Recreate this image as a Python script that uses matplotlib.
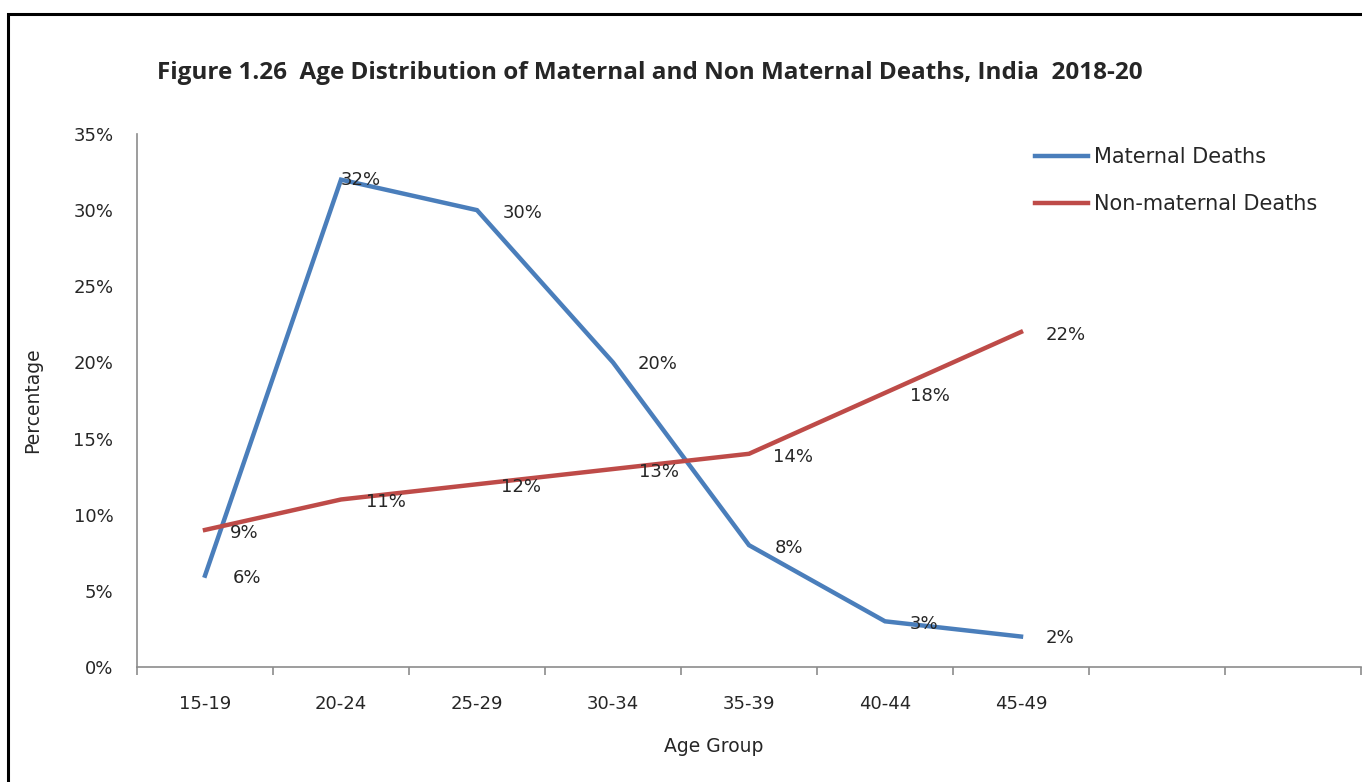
import numpy as np
import matplotlib.pyplot as plt
from matplotlib.patches import Rectangle

# Data
age_groups = ['15-19', '20-24', '25-29', '30-34', '35-39', '40-44', '45-49']
maternal = [6, 32, 30, 20, 8, 3, 2]
non_maternal = [9, 11, 12, 13, 14, 18, 22]
y_ticks = [0, 5, 10, 15, 20, 25, 30, 35]

# label offsets in points (dx, dy) - Excel style placement
mat_offsets = [(30, -2), (14, 0), (33, -2), (32, -1), (29, -2), (28, -2), (28, -1)]
non_offsets = [(28, -2), (32, -2), (32, -2), (33, -2), (32, -2), (32, -2), (32, -2)]

plt.rcParams['font.family'] = ['DejaVu Sans']
BLUE = '#4A7EBB'
RED = '#BE4B48'
TXT = '#262626'
FS = 13

fig = plt.figure(figsize=(13.62, 7.82), dpi=100)
ax = fig.add_axes([137 / 1362, 115 / 782, 1224 / 1362, 533 / 782])

x = np.arange(len(age_groups))
ax.plot(x, maternal, color=BLUE, lw=3.2, label='Maternal Deaths', solid_joinstyle='miter')
ax.plot(x, non_maternal, color=RED, lw=3.2, label='Non-maternal Deaths', solid_joinstyle='miter')

for xi, v, off in zip(x, maternal, mat_offsets):
    ax.annotate(f'{v}%', (xi, v), xytext=off, textcoords='offset points',
                ha='center', va='center', fontsize=FS, color=TXT)
for xi, v, off in zip(x, non_maternal, non_offsets):
    ax.annotate(f'{v}%', (xi, v), xytext=off, textcoords='offset points',
                ha='center', va='center', fontsize=FS, color=TXT)

# 9 category slots, last two empty
ax.set_xlim(-0.5, 8.5)
ax.set_ylim(0, 35)
ax.set_xticks(np.arange(-0.5, 9.0, 1.0))
ax.set_xticklabels([])
ax.set_xticks(x, minor=True)
ax.set_xticklabels(age_groups, minor=True)
ax.tick_params(axis='x', which='major', length=6, width=1.2, color='#8c8c8c', direction='out')
ax.tick_params(axis='x', which='minor', length=0, pad=20, labelsize=FS, labelcolor=TXT)
ax.set_yticks(y_ticks)
ax.set_yticklabels([f'{t}%' for t in y_ticks])
ax.tick_params(axis='y', length=0, pad=17, labelsize=FS, labelcolor=TXT)

for s in ['top', 'right']:
    ax.spines[s].set_visible(False)
for s in ['left', 'bottom']:
    ax.spines[s].set_color('#8c8c8c')
    ax.spines[s].set_linewidth(1.2)

fig.text(714 / 1362, 1 - 747 / 782, 'Age Group', ha='center', va='center',
         fontsize=13.5, color=TXT)
fig.text(33 / 1362, 1 - 400 / 782, 'Percentage', rotation=90, ha='center', va='center',
         fontsize=13.5, color=TXT)

fig.text(650 / 1362, 1 - 73 / 782,
         'Figure 1.26  Age Distribution of Maternal and Non Maternal Deaths, India  2018-20',
         ha='center', va='center', fontsize=17.5, fontweight='bold', color=TXT,
         family=['Open Sans', 'DejaVu Sans'])

leg = ax.legend(loc='upper left', bbox_to_anchor=(1035 / 1362, 1 - 147 / 782),
                bbox_transform=fig.transFigure, frameon=False, fontsize=15,
                handlelength=2.55, handletextpad=0.3, labelspacing=1.3,
                borderaxespad=0, borderpad=0)
for t in leg.get_texts():
    t.set_color(TXT)

# black frame around the chart (clipped at right and bottom in reference)
fig.patches.append(Rectangle((8 / 1362, -0.05), 1.2, 1 - 14 / 782 + 0.05,
                             transform=fig.transFigure, fill=False,
                             edgecolor='black', lw=2.2))

fig.savefig('out.png', dpi=100)
